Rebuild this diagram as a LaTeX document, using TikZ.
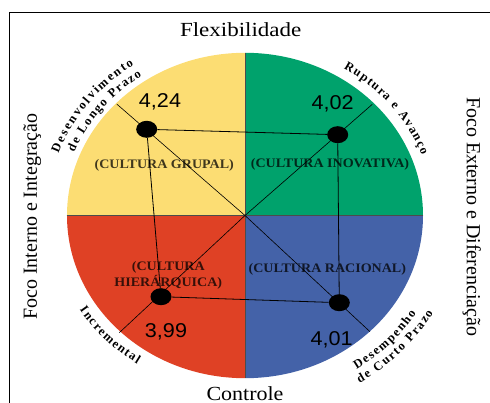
\documentclass[tikz,border=0pt]{standalone}
\usepackage{fontspec}
\setmainfont{Liberation Serif}
\newfontfamily\numfont{Liberation Sans}
\usetikzlibrary{shapes.geometric,decorations.text}
\definecolor{cgrupal}{RGB}{252,221,115}
\definecolor{cinovativa}{RGB}{0,162,108}
\definecolor{chierarquica}{RGB}{223,65,37}
\definecolor{cracional}{RGB}{68,98,168}
\newcommand{\arcfont}{\fontsize{12.5}{14}\selectfont\bfseries}

\begin{document}
\begin{tikzpicture}[x=1pt,y=1pt,
    eixo/.style={font=\fontsize{20}{24}\selectfont, inner sep=0pt},
    cultura/.style={font=\fontsize{13}{16}\selectfont\bfseries, text opacity=0.75,
      align=center, xscale=1.08, inner sep=0pt},
    ponto/.style={ellipse, fill=black, minimum width=21pt, minimum height=17pt, inner sep=0pt},
    valor/.style={font=\numfont\fontsize{20}{24}\selectfont, xscale=1.08, inner sep=0pt},
    arco/.style={decorate, decoration={text along path, text align={fit to path}}}]
  \useasboundingbox (-245,-187.5) rectangle (245,215.5);
  \draw[line width=1.2pt] (-235.5,-187.5) -- (-235.5,202.8) -- (245,202.8);
  % quadrantes
  \fill[cgrupal] (0,0) -- (0,162.7) arc[start angle=90, end angle=180, x radius=178, y radius=162.7] -- cycle;
  \fill[cinovativa] (0,0) -- (178,0) arc[start angle=0, end angle=90, x radius=178, y radius=162.7] -- cycle;
  \fill[chierarquica] (0,0) -- (-178,0) arc[start angle=180, end angle=270, x radius=178, y radius=162.7] -- cycle;
  \fill[cracional] (0,0) -- (0,-162.7) arc[start angle=270, end angle=360, x radius=178, y radius=162.7] -- cycle;
  \draw[line width=0.8pt, black!70] (0,162.7) -- (0,-162.7) (-178,0) -- (178,0);
  % diagonais
  \coordinate (c) at (0,0);
  \coordinate (ul) at (-128.3,111.5);
  \coordinate (ur) at (127.3,111.2);
  \coordinate (ll) at (-125.7,-117.2);
  \coordinate (lr) at (125,-116.2);
  \draw[line width=0.6pt] (ul) -- (c) -- (lr);
  \draw[line width=0.6pt] (ur) -- (c) -- (ll);
  \node[cultura] (grupal) at (-80.7,50.5) {(CULTURA GRUPAL)};
  \node[cultura] (inovativa) at (85,51.5) {(CULTURA INOVATIVA)};
  \node[cultura] (hierarquica) at (-76.7,-59.5) {(CULTURA\\HIERÁRQUICA)};
  \node[cultura] (racional) at (82.3,-53.8) {(CULTURA RACIONAL)};
  \node[ponto] (d1) at (-98.3,86.2) {};
  \node[ponto] (d2) at (92.7,80.8) {};
  \node[ponto] (d3) at (-84,-81.2) {};
  \node[ponto] (d4) at (94.3,-87.2) {};
  \draw[line width=0.8pt] (d1) -- (d2) -- (d4) -- (d3) -- (d1);
  \node[valor] (v1) at (-85,113.8) {4,24};
  \node[valor] (v2) at (87.7,111.5) {4,02};
  \node[valor] (v3) at (-79,-116.2) {3,99};
  \node[valor] (v4) at (86.7,-124.5) {4,01};
  % eixos
  \node[eixo, xscale=1.15] (flex) at (-4.3,185.5) {Flexibilidade};
  \node[eixo, xscale=1.1] (controle) at (0,-177.8) {Controle};
  \node[eixo, rotate=90] (interno) at (-212.7,-1.2) {Foco Interno e Integração};
  \node[eixo, rotate=-90] (externo) at (226.7,-1.2) {Foco Externo e Diferenciação};
  % rotulos curvos
  \path[arco, decoration={text={|\arcfont|Desenvolvimento}}]
    (160:198.5 and 181.4) arc[start angle=160, end angle=124, x radius=198.5, y radius=181.4];
  \path[arco, decoration={text={|\arcfont|de Longo Prazo}}]
    (158:184.2 and 168.4) arc[start angle=158, end angle=124, x radius=184.2, y radius=168.4];
  \path[arco, decoration={text={|\arcfont|Ruptura e Avanço}}]
    (58.5:188.8 and 172.5) arc[start angle=58.5, end angle=20.5, x radius=188.8, y radius=172.5];
  \path[arco, decoration={text={|\arcfont|Incremental}}]
    (212:194.9 and 178.1) arc[start angle=212, end angle=236.5, x radius=194.9, y radius=178.1];
  \path[arco, decoration={text={|\arcfont|Desempenho}}]
    (303.5:202 and 184.6) arc[start angle=303.5, end angle=328, x radius=202, y radius=184.6];
  \path[arco, decoration={text={|\arcfont|de Curto Prazo}}]
    (302:216.3 and 197.6) arc[start angle=302, end angle=330.5, x radius=216.3, y radius=197.6];
\end{tikzpicture}
\end{document}
